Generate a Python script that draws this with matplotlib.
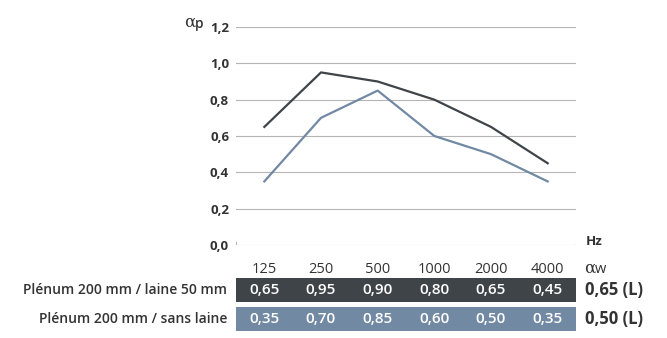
import numpy as np
import matplotlib.pyplot as plt

plt.rcParams['font.family'] = ['Open Sans', 'DejaVu Sans']

freqs = ['125', '250', '500', '1000', '2000', '4000']
row_labels = ['Plénum 200 mm / laine 50 mm', 'Plénum 200 mm / sans laine']
laine = [0.65, 0.95, 0.90, 0.80, 0.65, 0.45]
sans_laine = [0.35, 0.70, 0.85, 0.60, 0.50, 0.35]
alpha_w = ['0,65 (L)', '0,50 (L)']
yticks = [0.0, 0.2, 0.4, 0.6, 0.8, 1.0, 1.2]

dark = '#3f4449'
blue = '#7189a3'
grid_c = '#b5b5b5'
text_c = '#333333'


def fmt(v):
    return f'{v:.2f}'.replace('.', ',')


fig = plt.figure(figsize=(6.67, 3.38), dpi=100)
W, H = 667, 338
x0, x1 = 236, 576

ax = fig.add_axes([x0 / W, 1 - 245 / H, (x1 - x0) / W, 218 / H])
x = np.arange(len(freqs))
ax.set_xlim(-0.5, len(freqs) - 0.5)
ax.set_ylim(0, 1.2)
for v in yticks:
    ax.axhline(v, color=grid_c, lw=0.8, zorder=1)
ax.axvline(-0.5, ymin=0, ymax=0.015, color=grid_c, lw=0.8)
ax.axvline(len(freqs) - 0.5, ymin=0, ymax=0.015, color=grid_c, lw=0.8)
ax.plot(x, laine, color=dark, lw=1.6, zorder=3)
ax.plot(x, sans_laine, color=blue, lw=1.6, zorder=3)
for s in ax.spines.values():
    s.set_visible(False)
ax.set_xticks([])
ax.set_yticks(yticks)
ax.set_yticklabels([fmt(v)[:3] for v in yticks], fontweight='bold',
                   fontsize=9.5, color=text_c)
ax.tick_params(axis='y', length=0, pad=5)
ax.text(-0.12, 1.022, 'α', transform=ax.transAxes, ha='right', va='center',
        fontsize=12, color=text_c, family=['DejaVu Serif'])
ax.text(-0.12, 1.016, 'p', transform=ax.transAxes, ha='left', va='center',
        fontsize=10, fontweight='semibold', color=text_c)
ax.text(1.028, 0.015, 'Hz', transform=ax.transAxes, ha='left', va='center',
        fontsize=9.5, fontweight='bold', color=text_c)

# table below the chart
tab = fig.add_axes([x0 / W, 1 - 333.5 / H, (x1 - x0) / W, 58 / H])
tab.set_xlim(-0.5, len(freqs) - 0.5)
tab.set_ylim(1.5, -0.5)
tab.axis('off')
tab.barh([0, 1], [len(freqs) + 0.06] * 2, left=-0.53, height=0.83,
         color=[dark, blue], zorder=1)
for i, f in enumerate(freqs):
    tab.text(i, -0.72, f, ha='center', va='center', fontsize=10.5,
             color=text_c, clip_on=False)
    tab.text(i, 0, fmt(laine[i]), ha='center', va='center', fontsize=11,
             fontweight='semibold', color='white')
    tab.text(i, 1, fmt(sans_laine[i]), ha='center', va='center', fontsize=11,
             fontweight='semibold', color='white')
tab.text(len(freqs) - 0.36, -0.74, 'α', ha='left', va='center',
         fontsize=12, color=text_c, clip_on=False, family=['DejaVu Serif'])
tab.text(len(freqs) - 0.17, -0.72, 'w', ha='left', va='center',
         fontsize=10.5, color=text_c, clip_on=False)
for r in range(2):
    tab.text(-0.66, r, row_labels[r], ha='right', va='center', fontsize=10,
             fontweight='semibold', color=text_c, clip_on=False)
    tab.text(len(freqs) - 0.34, r, alpha_w[r], ha='left', va='center',
             fontsize=12, fontweight='bold', color=text_c, clip_on=False)

fig.savefig('out.png', dpi=100)
